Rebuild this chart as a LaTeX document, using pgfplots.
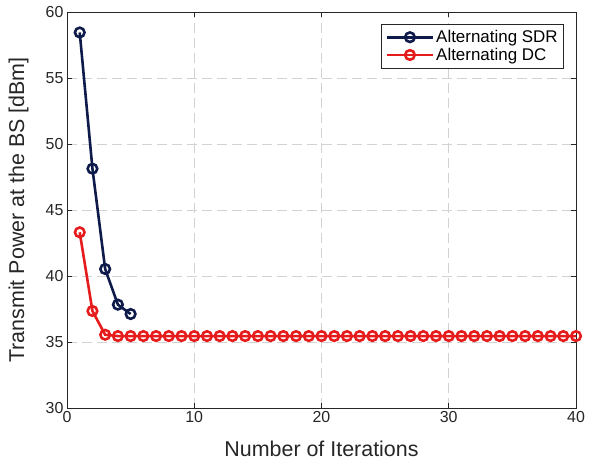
\documentclass[border=0pt]{standalone}
\usepackage{pgfplots}
\pgfplotsset{compat=1.18}
\usepackage{fontspec}
\setmainfont{Liberation Sans}
\definecolor{sdr}{RGB}{14,26,74}
\definecolor{dc}{RGB}{230,28,28}
\definecolor{axc}{RGB}{38,38,38}
\begin{document}
\begin{tikzpicture}
\begin{axis}[
  scale only axis,
  width=509bp, height=396bp,
  xmin=0, xmax=40, ymin=30, ymax=60,
  xtick={0,10,20,30,40}, ytick={30,35,40,45,50,55,60},
  /pgf/number format/assume math mode=true,
  tick label style={font=\fontsize{16}{18}\selectfont, color=axc},
  label style={font=\fontsize{21.5}{24}\selectfont, color=axc},
  xlabel={Number of Iterations},
  ylabel={Transmit Power at the BS [dBm]},
  xlabel style={at={(axis description cs:0.5,0)}, anchor=north, yshift=-29bp},
  ylabel style={at={(axis description cs:0,0.5)}, anchor=south, yshift=35bp},
  axis line style={color=axc, line width=0.7pt},
  tick style={color=axc, line width=0.7pt},
  tick align=inside,
  major tick length=5bp,
  xtick pos=both, ytick pos=both,
  grid=major,
  major grid style={color=gray!35, line width=0.7pt, dash pattern=on 10bp off 5bp},
  every mark/.append style={line width=2.6pt},
  legend style={at={(axis cs:40,60)}, anchor=north east, xshift=-12bp, yshift=-12bp,
    font=\fontsize{17}{20}\selectfont, draw=axc, line width=0.7pt, inner xsep=4bp, inner ysep=4bp,
    row sep=0bp, cells={anchor=west}},
  legend image code/.code={
    \draw[mark repeat=2,mark phase=2] plot coordinates {(0bp,0bp) (23bp,0bp) (46bp,0bp)};},
]
\addplot[color=sdr, line width=2.6pt, mark=o, mark size=4.8bp]
coordinates {(1,58.45) (2,48.13) (3,40.53) (4,37.83) (5,37.12)};
\addlegendentry{Alternating SDR}
\addplot[color=dc, line width=2.6pt, mark=o, mark size=4.8bp]
coordinates {(1,43.31) (2,37.35) (3,35.55) (4,35.45) (5,35.45) (6,35.45) (7,35.45) (8,35.45) (9,35.45) (10,35.45)
(11,35.45) (12,35.45) (13,35.45) (14,35.45) (15,35.45) (16,35.45) (17,35.45) (18,35.45) (19,35.45) (20,35.45)
(21,35.45) (22,35.45) (23,35.45) (24,35.45) (25,35.45) (26,35.45) (27,35.45) (28,35.45) (29,35.45) (30,35.45)
(31,35.45) (32,35.45) (33,35.45) (34,35.45) (35,35.45) (36,35.45) (37,35.45) (38,35.45) (39,35.45) (40,35.45)};
\addlegendentry{Alternating DC}
\end{axis}
\path (current axis.south west) ++(-67bp,-56bp) coordinate (bbA);
\path (current axis.north east) ++(21bp,12bp) coordinate (bbB);
\path (bbA) rectangle (bbB);
\end{tikzpicture}
\end{document}
